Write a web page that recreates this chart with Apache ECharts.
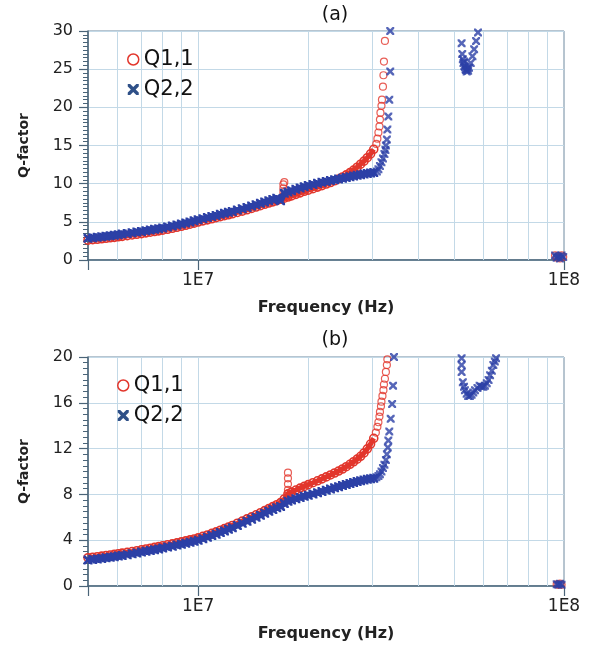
<!DOCTYPE html>
<html>
<head>
<meta charset="utf-8">
<script src="https://cdn.jsdelivr.net/npm/echarts@6/dist/echarts.min.js"></script>
<style>html,body{margin:0;padding:0;background:#fff}#c{width:601px;height:649px}</style>
</head>
<body>
<div id="c"></div>
<script>
// ---- data (frequency in Hz, Q-factor) ----
const freqHz = [5.00e6,5.15e6,5.30e6,5.45e6,5.60e6,5.75e6,5.90e6,6.05e6,6.20e6,
  6.40e6,6.60e6,6.80e6,7.00e6,7.20e6,7.40e6,7.60e6,7.80e6,8.00e6,
  8.25e6,8.50e6,8.75e6,9.00e6,9.25e6,9.50e6,9.75e6,1.00e7,
  1.03e7,1.06e7,1.09e7,1.12e7,1.15e7,1.18e7,1.21e7,1.24e7,
  1.28e7,1.32e7,1.36e7,1.40e7,1.44e7,1.48e7,1.52e7,1.56e7,1.60e7,1.64e7,1.68e7,
  1.72e7,1.76e7,1.80e7,1.85e7,1.90e7,1.95e7,2.00e7,
  2.06e7,2.12e7,2.18e7,2.24e7,2.30e7,2.36e7,2.42e7,2.48e7,2.54e7,2.60e7,
  2.66e7,2.72e7,2.78e7,2.84e7,2.90e7,2.96e7,3.02e7];

// panel (a)
const q11A = [2.60,2.66,2.72,2.78,2.85,2.91,2.97,3.04,3.10,
  3.19,3.28,3.37,3.46,3.55,3.64,3.73,3.82,3.91,
  4.03,4.16,4.29,4.42,4.55,4.69,4.83,4.97,
  5.12,5.26,5.40,5.54,5.67,5.80,5.93,6.06,
  6.23,6.40,6.58,6.76,6.94,7.12,7.30,7.46,7.62,7.78,7.95,
  8.10,8.25,8.40,8.60,8.80,9.00,9.15,
  9.35,9.55,9.75,9.95,10.15,10.38,10.62,10.88,11.15,11.45,
  11.78,12.15,12.55,12.95,13.40,13.90,14.50];
const q22A = [2.85,2.92,2.99,3.05,3.12,3.18,3.25,3.32,3.39,
  3.48,3.57,3.66,3.75,3.84,3.93,4.02,4.11,4.20,
  4.32,4.45,4.58,4.72,4.85,4.99,5.13,5.27,
  5.42,5.56,5.70,5.84,5.98,6.11,6.24,6.37,
  6.54,6.71,6.89,7.07,7.25,7.43,7.60,7.77,7.93,8.08,7.75,
  8.75,8.92,9.08,9.26,9.44,9.60,9.75,
  9.90,10.04,10.17,10.29,10.40,10.50,10.60,10.72,10.82,10.92,
  11.01,11.10,11.18,11.26,11.33,11.40,11.47];
const aQ11Spike = [[1.71e7,8.4],[1.71e7,8.9],[1.71e7,9.4],[1.71e7,9.9],[1.72e7,10.2]];
const aQ11Rise = [[3.07e7,15.2],[3.09e7,15.9],[3.11e7,16.7],[3.13e7,17.5],[3.14e7,18.4],[3.15e7,19.3],
  [3.17e7,20.2],[3.18e7,21.0],[3.20e7,22.7],[3.21e7,24.2],[3.22e7,26.0],[3.24e7,28.7]];
const aQ22Rise = [[3.08e7,11.6],[3.11e7,11.9],[3.14e7,12.3],[3.17e7,12.8],[3.20e7,13.3],[3.23e7,13.9],
  [3.25e7,14.4],[3.26e7,15.0],[3.28e7,15.8],[3.29e7,17.1],[3.31e7,18.8],[3.33e7,21.0],[3.35e7,24.7],[3.35e7,30.0]];
const aQ22Band = [[5.25e7,28.4],[5.27e7,27.0],[5.29e7,26.3],[5.31e7,25.8],[5.33e7,26.0],[5.34e7,25.4],
  [5.36e7,25.3],[5.38e7,25.0],[5.40e7,24.9],[5.42e7,24.7],[5.45e7,25.1],[5.47e7,24.8],[5.50e7,25.2],
  [5.56e7,25.8],[5.62e7,26.7],[5.68e7,27.6],[5.75e7,28.7],[5.82e7,29.8]];
const aEnd = [[9.45e7,0.6],[9.55e7,0.3],[9.65e7,0.5],[9.75e7,0.2],[9.85e7,0.6],[9.95e7,0.4]];

// panel (b)
const q11B = [2.47,2.51,2.56,2.61,2.66,2.71,2.76,2.82,2.87,
  2.94,3.01,3.08,3.16,3.23,3.30,3.37,3.44,3.51,
  3.60,3.68,3.77,3.85,3.94,4.03,4.11,4.20,
  4.33,4.46,4.60,4.73,4.87,5.01,5.15,5.29,
  5.48,5.67,5.86,6.04,6.22,6.40,6.58,6.76,6.93,7.10,7.28,
  7.60,8.05,8.20,8.38,8.55,8.70,8.85,
  9.02,9.19,9.36,9.53,9.70,9.87,10.04,10.22,10.42,10.63,
  10.85,11.08,11.33,11.62,11.98,12.40,12.90];
const q22B = [2.27,2.31,2.36,2.41,2.46,2.51,2.56,2.62,2.67,
  2.74,2.81,2.88,2.96,3.03,3.10,3.17,3.24,3.31,
  3.40,3.48,3.57,3.65,3.74,3.83,3.91,4.00,
  4.13,4.26,4.40,4.53,4.67,4.81,4.95,5.09,
  5.28,5.47,5.66,5.84,6.01,6.18,6.35,6.52,6.68,6.84,6.95,
  7.20,7.40,7.52,7.63,7.74,7.84,7.93,
  8.04,8.15,8.26,8.37,8.47,8.57,8.67,8.77,8.86,8.95,
  9.04,9.12,9.19,9.26,9.32,9.37,9.42];
const bQ11Spike = [[1.76e7,7.9],[1.76e7,8.4],[1.76e7,8.9],[1.76e7,9.4],[1.76e7,9.9]];
const bQ11Rise = [[3.06e7,13.4],[3.09e7,13.9],[3.11e7,14.3],[3.13e7,14.8],[3.14e7,15.2],[3.16e7,15.7],
  [3.17e7,16.1],[3.19e7,16.6],[3.21e7,17.1],[3.22e7,17.6],[3.24e7,18.1],[3.26e7,18.7],[3.28e7,19.3],[3.29e7,19.8]];
const bQ22Rise = [[3.07e7,9.5],[3.11e7,9.6],[3.14e7,9.75],[3.17e7,10.0],[3.20e7,10.3],[3.23e7,10.6],
  [3.26e7,11.0],[3.28e7,11.5],[3.30e7,12.1],[3.31e7,12.7],[3.33e7,13.5],[3.36e7,14.6],[3.39e7,15.9],
  [3.41e7,17.5],[3.43e7,20.0]];
const bQ22Band = [[5.25e7,19.9],[5.25e7,19.3],[5.25e7,18.7],[5.29e7,17.8],[5.33e7,17.4],[5.36e7,17.1],
  [5.42e7,16.8],[5.47e7,16.6],[5.53e7,16.6],[5.59e7,16.7],[5.65e7,16.9],[5.71e7,17.1],[5.80e7,17.3],
  [5.88e7,17.5],[5.95e7,17.4],[6.02e7,17.4],[6.08e7,17.5],[6.15e7,17.7],[6.22e7,18.0],[6.28e7,18.4],
  [6.35e7,18.8],[6.41e7,19.3],[6.47e7,19.6],[6.52e7,19.9]];
const bEnd = [[9.55e7,0.15],[9.65e7,0.1],[9.75e7,0.2],[9.85e7,0.1]];

// axis ticks / grid positions
const gridFreqs = [6e6,7e6,8e6,9e6,1e7,2e7,3e7,4e7,5e7,6e7,7e7,8e7,9e7];
const yMaxA = 30, yStepA = 5, yMaxB = 20, yStepB = 4;
const seriesNames = ['Q1,1','Q2,2'];
const panelTitles = ['(a)','(b)'];

// ---- styling ----
const RED = '#e2362c', BLUE = '#2c40a6';
const FONT = '"DejaVu Sans", sans-serif';
const X_SYM = 'path://M0,0L2.2,0L5,2.8L7.8,0L10,0L10,2.2L7.2,5L10,7.8L10,10L7.8,10L5,7.2L2.2,10L0,10L0,7.8L2.8,5L0,2.2Z';
const AXIS_COL = '#4a6478';
const GRID_COL = '#c3d9e7';

function pairs(f, q) { return f.map((x, i) => [x, q[i]]); }

function xAxisCfg(gi) {
  return {
    type: 'log', logBase: 10, gridIndex: gi, min: 5e6, max: 1e8,
    name: 'Frequency (Hz)', nameLocation: 'middle', nameGap: 40,
    nameTextStyle: { fontFamily: FONT, fontSize: 16, fontWeight: 'bold', color: '#222' },
    axisLine: { show: true, lineStyle: { color: AXIS_COL, width: 1.5 } },
    axisTick: { show: true, length: 10, lineStyle: { color: AXIS_COL, width: 1.2 } },
    axisLabel: {
      margin: 12, fontFamily: FONT, fontSize: 17, color: '#222',
      formatter: function (v) {
        const e = Math.log10(v);
        return Math.abs(e - Math.round(e)) < 1e-6 ? '1E' + Math.round(e) : '';
      }
    },
    splitLine: { show: false }
  };
}
function yAxisCfg(gi, max, step, minorN) {
  return {
    type: 'value', gridIndex: gi, min: 0, max: max, interval: step,
    name: 'Q-factor', nameLocation: 'middle', nameGap: 57, nameRotate: 90,
    nameTextStyle: { fontFamily: FONT, fontSize: 14, fontWeight: 'bold', color: '#222' },
    axisLine: { show: true, lineStyle: { color: AXIS_COL, width: 1.5 } },
    axisTick: { show: true, length: 9, lineStyle: { color: AXIS_COL, width: 1.2 } },
    minorTick: { show: true, splitNumber: minorN, length: 5, lineStyle: { color: AXIS_COL, width: 1 } },
    axisLabel: { margin: 15, fontFamily: FONT, fontSize: 16, color: '#222' },
    splitLine: { show: true, lineStyle: { color: GRID_COL, width: 1 } }
  };
}
function vLines() {
  return {
    silent: true, symbol: ['none', 'none'], z: 1, animation: false,
    label: { show: false },
    lineStyle: { color: GRID_COL, width: 1, type: 'solid' },
    emphasis: { disabled: true },
    data: gridFreqs.map(f => ({ xAxis: f }))
  };
}
// dense sweep: measured points drawn so closely that they merge into a band
function redBand(gi, data) {
  return {
    name: seriesNames[0], type: 'line', xAxisIndex: gi, yAxisIndex: gi, z: 3,
    data: data, showSymbol: true, symbol: 'circle', symbolSize: 8,
    lineStyle: { color: RED, width: 5 },
    itemStyle: { color: 'rgba(0,0,0,0)', borderColor: RED, borderWidth: 1.6 },
    emphasis: { disabled: true }, animation: false,
    markLine: vLines()
  };
}
function blueBand(gi, data) {
  return {
    name: seriesNames[1], type: 'line', xAxisIndex: gi, yAxisIndex: gi, z: 4,
    data: data, showSymbol: true, symbol: X_SYM, symbolSize: 9,
    lineStyle: { color: BLUE, width: 6 },
    itemStyle: { color: BLUE },
    emphasis: { disabled: true }, animation: false
  };
}
function redPts(gi, data) {
  return {
    name: seriesNames[0], type: 'scatter', xAxisIndex: gi, yAxisIndex: gi, z: 3,
    data: data, symbol: 'circle', symbolSize: 7,
    itemStyle: { color: 'rgba(0,0,0,0)', borderColor: RED, borderWidth: 1.2 },
    emphasis: { disabled: true }, animation: false
  };
}
function bluePts(gi, data) {
  return {
    name: seriesNames[1], type: 'scatter', xAxisIndex: gi, yAxisIndex: gi, z: 4,
    data: data, symbol: X_SYM, symbolSize: 8,
    itemStyle: { color: BLUE },
    emphasis: { disabled: true }, animation: false
  };
}
function legendCfg(left, top) {
  return {
    left: left, top: top, orient: 'vertical', padding: 0,
    itemWidth: 11, itemHeight: 11, itemGap: 9, selectedMode: false,
    textStyle: { fontFamily: FONT, fontSize: 21, color: '#111' },
    data: [
      { name: seriesNames[0], icon: 'circle', itemStyle: { color: 'rgba(0,0,0,0)', borderColor: RED, borderWidth: 1.5 } },
      { name: seriesNames[1], icon: X_SYM, itemStyle: { color: '#2f5088', borderWidth: 0 } }
    ]
  };
}
function titleText(txt, x, y) {
  return {
    type: 'text', x: x, y: y, silent: true,
    style: { text: txt, font: '19px ' + FONT, fill: '#111',
      textAlign: 'center', textVerticalAlign: 'middle', align: 'center', verticalAlign: 'middle' }
  };
}

const chart = echarts.init(document.getElementById('c'), null, { renderer: 'canvas' });
chart.setOption({
  backgroundColor: '#fff',
  animation: false,
  grid: [
    { left: 88, top: 31, width: 476, height: 229, show: true, borderColor: '#6f8aa0', borderWidth: 1 },
    { left: 88, top: 357, width: 476, height: 229, show: true, borderColor: '#6f8aa0', borderWidth: 1 }
  ],
  xAxis: [xAxisCfg(0), xAxisCfg(1)],
  yAxis: [yAxisCfg(0, yMaxA, yStepA, 10), yAxisCfg(1, yMaxB, yStepB, 8)],
  legend: [legendCfg(127, 49), legendCfg(117, 375)],
  graphic: [titleText(panelTitles[0], 335, 15), titleText(panelTitles[1], 335, 340)],
  series: [
    redBand(0, pairs(freqHz, q11A)),
    redPts(0, aQ11Spike.concat(aQ11Rise, aEnd)),
    blueBand(0, pairs(freqHz, q22A)),
    bluePts(0, aQ22Rise.concat(aQ22Band, aEnd)),
    redBand(1, pairs(freqHz, q11B)),
    redPts(1, bQ11Spike.concat(bQ11Rise, bEnd)),
    blueBand(1, pairs(freqHz, q22B)),
    bluePts(1, bQ22Rise.concat(bQ22Band, bEnd))
  ]
});
</script>
</body>
</html>
